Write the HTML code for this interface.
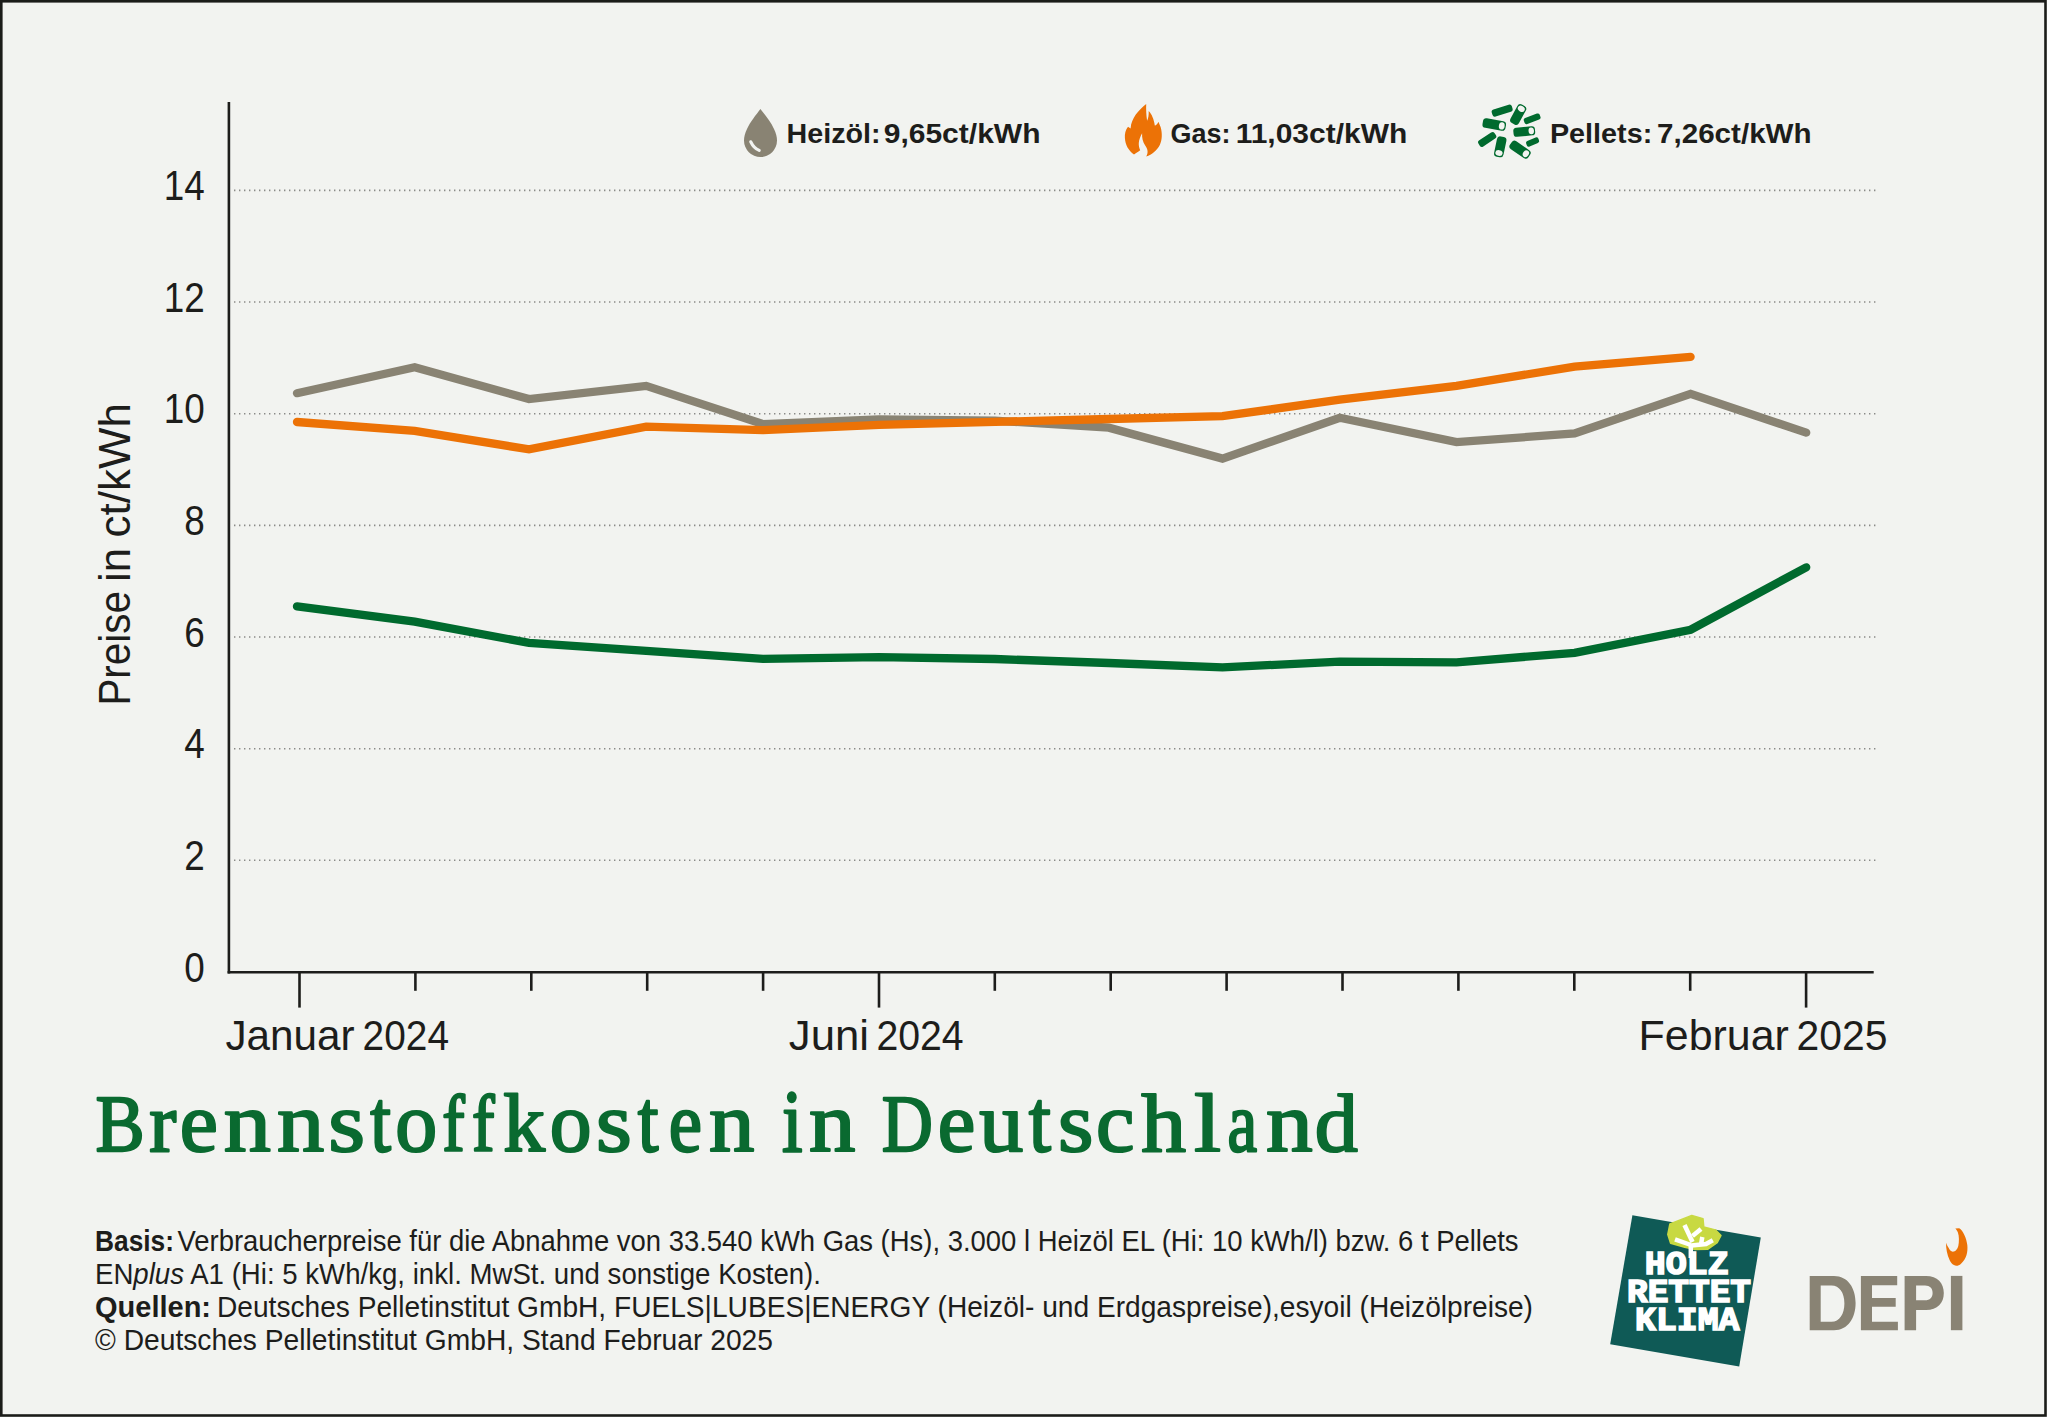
<!DOCTYPE html>
<html><head><meta charset="utf-8"><title>Brennstoffkosten in Deutschland</title>
<style>
html,body{margin:0;padding:0;width:2047px;height:1417px;overflow:hidden;background:#f2f3f0}
svg{display:block}
text{font-family:"Liberation Sans",sans-serif}
</style></head><body>
<svg width="2047" height="1417" viewBox="0 0 2047 1417">
<rect x="0" y="0" width="2047" height="1417" fill="#f2f3f0"/>
<rect x="1.3" y="1.3" width="2044.2" height="1414.2" fill="none" stroke="#1b1c19" stroke-width="2.6"/>

<line x1="234" y1="860.3" x2="1877" y2="860.3" stroke="#8a8a87" stroke-width="1.6" stroke-dasharray="1.4 3.6"/>
<line x1="234" y1="748.7" x2="1877" y2="748.7" stroke="#8a8a87" stroke-width="1.6" stroke-dasharray="1.4 3.6"/>
<line x1="234" y1="637.0" x2="1877" y2="637.0" stroke="#8a8a87" stroke-width="1.6" stroke-dasharray="1.4 3.6"/>
<line x1="234" y1="525.4" x2="1877" y2="525.4" stroke="#8a8a87" stroke-width="1.6" stroke-dasharray="1.4 3.6"/>
<line x1="234" y1="413.7" x2="1877" y2="413.7" stroke="#8a8a87" stroke-width="1.6" stroke-dasharray="1.4 3.6"/>
<line x1="234" y1="302.0" x2="1877" y2="302.0" stroke="#8a8a87" stroke-width="1.6" stroke-dasharray="1.4 3.6"/>
<line x1="234" y1="190.4" x2="1877" y2="190.4" stroke="#8a8a87" stroke-width="1.6" stroke-dasharray="1.4 3.6"/>
<line x1="228.9" y1="102" x2="228.9" y2="973.6" stroke="#1d1d1b" stroke-width="2.6"/>
<line x1="227.6" y1="972.3" x2="1873.7" y2="972.3" stroke="#1d1d1b" stroke-width="2.6"/>
<line x1="299.5" y1="972" x2="299.5" y2="1007.6" stroke="#1d1d1b" stroke-width="2.6"/>
<line x1="415.4" y1="972" x2="415.4" y2="990.8" stroke="#1d1d1b" stroke-width="2.6"/>
<line x1="531.3" y1="972" x2="531.3" y2="990.8" stroke="#1d1d1b" stroke-width="2.6"/>
<line x1="647.2" y1="972" x2="647.2" y2="990.8" stroke="#1d1d1b" stroke-width="2.6"/>
<line x1="763.1" y1="972" x2="763.1" y2="990.8" stroke="#1d1d1b" stroke-width="2.6"/>
<line x1="879.0" y1="972" x2="879.0" y2="1007.6" stroke="#1d1d1b" stroke-width="2.6"/>
<line x1="994.8" y1="972" x2="994.8" y2="990.8" stroke="#1d1d1b" stroke-width="2.6"/>
<line x1="1110.7" y1="972" x2="1110.7" y2="990.8" stroke="#1d1d1b" stroke-width="2.6"/>
<line x1="1226.6" y1="972" x2="1226.6" y2="990.8" stroke="#1d1d1b" stroke-width="2.6"/>
<line x1="1342.5" y1="972" x2="1342.5" y2="990.8" stroke="#1d1d1b" stroke-width="2.6"/>
<line x1="1458.4" y1="972" x2="1458.4" y2="990.8" stroke="#1d1d1b" stroke-width="2.6"/>
<line x1="1574.3" y1="972" x2="1574.3" y2="990.8" stroke="#1d1d1b" stroke-width="2.6"/>
<line x1="1690.2" y1="972" x2="1690.2" y2="990.8" stroke="#1d1d1b" stroke-width="2.6"/>
<line x1="1806.1" y1="972" x2="1806.1" y2="1007.6" stroke="#1d1d1b" stroke-width="2.6"/>
<text x="204.8" y="981.6" font-size="42.6" fill="#1d1d1b" text-anchor="end" textLength="20.5" lengthAdjust="spacingAndGlyphs">0</text>
<text x="204.8" y="869.9" font-size="42.6" fill="#1d1d1b" text-anchor="end" textLength="20.5" lengthAdjust="spacingAndGlyphs">2</text>
<text x="204.8" y="758.3" font-size="42.6" fill="#1d1d1b" text-anchor="end" textLength="20.5" lengthAdjust="spacingAndGlyphs">4</text>
<text x="204.8" y="646.6" font-size="42.6" fill="#1d1d1b" text-anchor="end" textLength="20.5" lengthAdjust="spacingAndGlyphs">6</text>
<text x="204.8" y="535.0" font-size="42.6" fill="#1d1d1b" text-anchor="end" textLength="20.5" lengthAdjust="spacingAndGlyphs">8</text>
<text x="204.8" y="423.3" font-size="42.6" fill="#1d1d1b" text-anchor="end" textLength="41" lengthAdjust="spacingAndGlyphs">10</text>
<text x="204.8" y="311.6" font-size="42.6" fill="#1d1d1b" text-anchor="end" textLength="41" lengthAdjust="spacingAndGlyphs">12</text>
<text x="204.8" y="200.0" font-size="42.6" fill="#1d1d1b" text-anchor="end" textLength="41" lengthAdjust="spacingAndGlyphs">14</text>
<text transform="translate(130.2,705.6) rotate(-90)" x="0" y="0" font-size="43.8" fill="#1d1d1b" textLength="114.5" lengthAdjust="spacingAndGlyphs">Preise</text>
<text transform="translate(130.2,582.0) rotate(-90)" x="0" y="0" font-size="43.8" fill="#1d1d1b" textLength="34.0" lengthAdjust="spacingAndGlyphs">in</text>
<text transform="translate(130.2,537.4) rotate(-90)" x="0" y="0" font-size="43.8" fill="#1d1d1b" textLength="134.4" lengthAdjust="spacingAndGlyphs">ct/kWh</text>
<text x="225.40" y="1050" font-size="43.3" fill="#1d1d1b" textLength="129.30" lengthAdjust="spacingAndGlyphs">Januar</text>
<text x="362.60" y="1050" font-size="43.3" fill="#1d1d1b" textLength="86.40" lengthAdjust="spacingAndGlyphs">2024</text>
<text x="788.80" y="1050" font-size="43.3" fill="#1d1d1b" textLength="80.20" lengthAdjust="spacingAndGlyphs">Juni</text>
<text x="876.40" y="1050" font-size="43.3" fill="#1d1d1b" textLength="87.30" lengthAdjust="spacingAndGlyphs">2024</text>
<text x="1638.60" y="1050" font-size="43.3" fill="#1d1d1b" textLength="150.30" lengthAdjust="spacingAndGlyphs">Februar</text>
<text x="1796.60" y="1050" font-size="43.3" fill="#1d1d1b" textLength="91.00" lengthAdjust="spacingAndGlyphs">2025</text>
<polyline points="297.0,393.2 414.7,367.2 529.0,399.1 646.2,385.9 763.0,424.1 879.0,419.5 995.0,420.6 1108.8,427.7 1222.5,458.6 1339.8,417.8 1456.5,442.1 1574.6,433.5 1690.6,393.8 1806.2,432.6" fill="none" stroke="#898373" stroke-width="8.3" stroke-linejoin="miter" stroke-linecap="round"/>
<polyline points="297.0,422.0 414.7,430.9 529.0,449.4 646.2,426.6 763.0,430.1 879.0,424.9 995.0,421.8 1108.8,419.0 1222.5,416.2 1339.8,399.6 1456.5,385.8 1574.6,366.7 1690.6,356.8" fill="none" stroke="#ec7206" stroke-width="8.3" stroke-linejoin="miter" stroke-linecap="round"/>
<polyline points="297.0,606.4 414.7,621.6 529.0,642.9 646.2,650.8 763.0,658.9 879.0,657.1 995.0,659.0 1108.8,663.0 1222.5,667.3 1339.8,661.7 1456.5,662.3 1574.6,652.9 1690.6,629.7 1806.2,567.3" fill="none" stroke="#006a2e" stroke-width="8.3" stroke-linejoin="miter" stroke-linecap="round"/>
<path d="M760.4,109 C756,115 750,122 747,129 C745,133 744,137 744,140.5 A16.5,16.5 0 0 0 777,140.5 C777,137 776,133 774,129 C771,122 765,115 760.4,109 Z" fill="#898373"/>
<path d="M750.8,141.8 C752.5,145.5 755.5,148.8 759.2,150.4" fill="none" stroke="#f2f3f0" stroke-width="3.2" stroke-linecap="round"/>
<text x="786.6" y="142.8" font-size="28.5" font-weight="bold" fill="#1d1d1b" textLength="94" lengthAdjust="spacingAndGlyphs">Heizöl:</text><text x="883.7" y="142.8" font-size="28.5" font-weight="bold" fill="#1d1d1b" textLength="156.8" lengthAdjust="spacingAndGlyphs">9,65ct/kWh</text>
<path d="M1146.2,104.1 C1138,111 1131.5,118 1130.6,128.5 L1128,126.8 C1125.5,130 1124.6,134 1124.9,138 C1125.3,145 1128.5,150.5 1134,154.5 C1135.8,153.2 1138,152 1140.2,150.3 C1139.2,148 1138.6,145.5 1138.8,143 C1139,139.5 1140.5,136 1142.1,133.2 C1141.8,137.5 1142.8,142 1145.2,145.5 C1147.5,148.5 1148.7,152.5 1146.2,156.5 C1152,154.5 1157,150.5 1159.8,145 C1162.2,140 1162.4,133 1160.6,127 L1158.4,121.8 C1157.6,124 1156.3,125.3 1154.8,125.6 C1154,119.5 1151.8,114 1148.7,111 C1148.8,115 1148.4,118.5 1147.1,120.8 C1146.2,115 1146,109 1146.2,104.1 Z" fill="#ec7206"/>
<text x="1170.4" y="142.8" font-size="28.5" font-weight="bold" fill="#1d1d1b" textLength="60" lengthAdjust="spacingAndGlyphs">Gas:</text><text x="1235.7" y="142.8" font-size="28.5" font-weight="bold" fill="#1d1d1b" textLength="171.6" lengthAdjust="spacingAndGlyphs">11,03ct/kWh</text>
<g transform="translate(1502.15,110.60) rotate(-17.6)"><rect x="-10.53" y="-3.65" width="21.06" height="7.30" rx="2.55" fill="#006a2e"/>
</g>
<g transform="translate(1518.20,114.55) rotate(-61.6)"><rect x="-10.51" y="-4.80" width="21.02" height="9.60" rx="3.36" fill="#006a2e"/>
<ellipse cx="6.48" cy="0" rx="2.88" ry="3.65" fill="#f2f3f0"/>
</g>
<g transform="translate(1532.15,118.75) rotate(-20.7)"><rect x="-8.47" y="-3.15" width="16.93" height="6.30" rx="2.20" fill="#006a2e"/>
</g>
<g transform="translate(1494.25,124.55) rotate(10.2)"><rect x="-11.67" y="-4.80" width="23.33" height="9.60" rx="3.36" fill="#006a2e"/>
<ellipse cx="7.63" cy="0" rx="2.88" ry="3.65" fill="#f2f3f0"/>
</g>
<g transform="translate(1524.25,131.55) rotate(-5.7)"><rect x="-10.85" y="-4.55" width="21.69" height="9.10" rx="3.19" fill="#006a2e"/>
<ellipse cx="7.03" cy="0" rx="2.73" ry="3.46" fill="#f2f3f0"/>
</g>
<g transform="translate(1487.20,139.45) rotate(-33.6)"><rect x="-9.65" y="-3.65" width="19.31" height="7.30" rx="2.55" fill="#006a2e"/>
</g>
<g transform="translate(1500.25,146.85) rotate(101.8)"><rect x="-10.29" y="-4.80" width="20.58" height="9.60" rx="3.36" fill="#006a2e"/>
<ellipse cx="6.26" cy="0" rx="2.88" ry="3.65" fill="#f2f3f0"/>
</g>
<g transform="translate(1520.05,149.70) rotate(34.5)"><rect x="-11.14" y="-4.80" width="22.28" height="9.60" rx="3.36" fill="#006a2e"/>
<ellipse cx="7.11" cy="0" rx="2.88" ry="3.65" fill="#f2f3f0"/>
</g>
<g transform="translate(1532.60,142.00) rotate(-23.2)"><rect x="-6.58" y="-2.95" width="13.16" height="5.90" rx="2.06" fill="#006a2e"/>
</g>
<text x="1549.9" y="142.8" font-size="28.5" font-weight="bold" fill="#1d1d1b" textLength="102.4" lengthAdjust="spacingAndGlyphs">Pellets:</text><text x="1657" y="142.8" font-size="28.5" font-weight="bold" fill="#1d1d1b" textLength="154.6" lengthAdjust="spacingAndGlyphs">7,26ct/kWh</text>
<g fill="#0a6a30" stroke="#0a6a30" stroke-width="2.20" stroke-linejoin="round">
<text transform="matrix(0.7373 0 0 0.8108 21.76 988.75)" x="100" y="200" font-size="100" vector-effect="non-scaling-stroke" style="font-family:'Liberation Serif',serif">B</text>
<text transform="matrix(0.8133 0 0 0.8404 67.94 982.81)" x="100" y="200" font-size="100" vector-effect="non-scaling-stroke" style="font-family:'Liberation Serif',serif">r</text>
<text transform="matrix(0.8595 0 0 0.8404 93.92 982.81)" x="100" y="200" font-size="100" vector-effect="non-scaling-stroke" style="font-family:'Liberation Serif',serif">e</text>
<text transform="matrix(0.9435 0 0 0.8404 129.47 982.81)" x="100" y="200" font-size="100" vector-effect="non-scaling-stroke" style="font-family:'Liberation Serif',serif">n</text>
<text transform="matrix(0.9457 0 0 0.8404 182.34 982.81)" x="100" y="200" font-size="100" vector-effect="non-scaling-stroke" style="font-family:'Liberation Serif',serif">n</text>
<text transform="matrix(0.9452 0 0 0.8404 233.70 982.81)" x="100" y="200" font-size="100" vector-effect="non-scaling-stroke" style="font-family:'Liberation Serif',serif">s</text>
<text transform="matrix(0.7462 0 0 0.8929 295.64 972.33)" x="100" y="200" font-size="100" vector-effect="non-scaling-stroke" style="font-family:'Liberation Serif',serif">t</text>
<text transform="matrix(0.8381 0 0 0.8404 311.44 982.81)" x="100" y="200" font-size="100" vector-effect="non-scaling-stroke" style="font-family:'Liberation Serif',serif">o</text>
<text transform="matrix(0.6733 0 0 0.8070 374.95 989.49)" x="100" y="200" font-size="100" vector-effect="non-scaling-stroke" style="font-family:'Liberation Serif',serif">f</text>
<text transform="matrix(0.6767 0 0 0.8070 404.40 989.49)" x="100" y="200" font-size="100" vector-effect="non-scaling-stroke" style="font-family:'Liberation Serif',serif">f</text>
<text transform="matrix(0.8354 0 0 0.8304 419.69 984.81)" x="100" y="200" font-size="100" vector-effect="non-scaling-stroke" style="font-family:'Liberation Serif',serif">k</text>
<text transform="matrix(0.8357 0 0 0.8404 466.19 982.81)" x="100" y="200" font-size="100" vector-effect="non-scaling-stroke" style="font-family:'Liberation Serif',serif">o</text>
<text transform="matrix(0.9194 0 0 0.8404 503.99 982.81)" x="100" y="200" font-size="100" vector-effect="non-scaling-stroke" style="font-family:'Liberation Serif',serif">s</text>
<text transform="matrix(0.7462 0 0 0.8929 563.24 972.33)" x="100" y="200" font-size="100" vector-effect="non-scaling-stroke" style="font-family:'Liberation Serif',serif">t</text>
<text transform="matrix(0.7486 0 0 0.8404 593.94 982.81)" x="100" y="200" font-size="100" vector-effect="non-scaling-stroke" style="font-family:'Liberation Serif',serif">e</text>
<text transform="matrix(0.9087 0 0 0.8404 618.21 982.81)" x="100" y="200" font-size="100" vector-effect="non-scaling-stroke" style="font-family:'Liberation Serif',serif">n</text>
<text transform="matrix(0.7417 0 0 0.8815 707.85 974.59)" x="100" y="200" font-size="100" vector-effect="non-scaling-stroke" style="font-family:'Liberation Serif',serif">i</text>
<text transform="matrix(0.9283 0 0 0.8404 716.22 982.81)" x="100" y="200" font-size="100" vector-effect="non-scaling-stroke" style="font-family:'Liberation Serif',serif">n</text>
<text transform="matrix(0.7077 0 0 0.8108 811.11 988.75)" x="100" y="200" font-size="100" vector-effect="non-scaling-stroke" style="font-family:'Liberation Serif',serif">D</text>
<text transform="matrix(0.8459 0 0 0.8404 853.12 982.81)" x="100" y="200" font-size="100" vector-effect="non-scaling-stroke" style="font-family:'Liberation Serif',serif">e</text>
<text transform="matrix(0.8809 0 0 0.8404 891.13 982.81)" x="100" y="200" font-size="100" vector-effect="non-scaling-stroke" style="font-family:'Liberation Serif',serif">u</text>
<text transform="matrix(0.8000 0 0 0.8929 948.80 972.33)" x="100" y="200" font-size="100" vector-effect="non-scaling-stroke" style="font-family:'Liberation Serif',serif">t</text>
<text transform="matrix(0.9097 0 0 0.8404 967.09 982.81)" x="100" y="200" font-size="100" vector-effect="non-scaling-stroke" style="font-family:'Liberation Serif',serif">s</text>
<text transform="matrix(0.8649 0 0 0.8404 1009.55 982.81)" x="100" y="200" font-size="100" vector-effect="non-scaling-stroke" style="font-family:'Liberation Serif',serif">c</text>
<text transform="matrix(0.8958 0 0 0.8304 1051.72 984.81)" x="100" y="200" font-size="100" vector-effect="non-scaling-stroke" style="font-family:'Liberation Serif',serif">h</text>
<text transform="matrix(0.9750 0 0 0.8304 1096.55 984.81)" x="100" y="200" font-size="100" vector-effect="non-scaling-stroke" style="font-family:'Liberation Serif',serif">l</text>
<text transform="matrix(0.6667 0 0 0.8404 1160.77 982.81)" x="100" y="200" font-size="100" vector-effect="non-scaling-stroke" style="font-family:'Liberation Serif',serif">a</text>
<text transform="matrix(0.9348 0 0 0.8404 1172.65 982.81)" x="100" y="200" font-size="100" vector-effect="non-scaling-stroke" style="font-family:'Liberation Serif',serif">n</text>
<text transform="matrix(0.8622 0 0 0.8304 1228.43 984.81)" x="100" y="200" font-size="100" vector-effect="non-scaling-stroke" style="font-family:'Liberation Serif',serif">d</text>
</g>
<text x="95" y="1251.2" font-size="29" font-weight="bold" fill="#1d1d1b" textLength="79" lengthAdjust="spacingAndGlyphs">Basis:</text>
<text x="177.5" y="1251.2" font-size="29" fill="#1d1d1b" textLength="1341" lengthAdjust="spacingAndGlyphs">Verbraucherpreise für die Abnahme von 33.540 kWh Gas (Hs), 3.000 l Heizöl EL (Hi: 10 kWh/l) bzw. 6 t Pellets</text>
<text x="95" y="1283.6" font-size="29" fill="#1d1d1b" textLength="726" lengthAdjust="spacingAndGlyphs">EN<tspan font-style="italic">plus</tspan> A1 (Hi: 5 kWh/kg, inkl. MwSt. und sonstige Kosten).</text>
<text x="95" y="1316.8" font-size="29" font-weight="bold" fill="#1d1d1b" textLength="116" lengthAdjust="spacingAndGlyphs">Quellen:</text>
<text x="217" y="1316.8" font-size="29" fill="#1d1d1b" textLength="1316" lengthAdjust="spacingAndGlyphs">Deutsches Pelletinstitut GmbH, FUELS|LUBES|ENERGY (Heizöl- und Erdgaspreise),esyoil (Heizölpreise)</text>
<text x="95" y="1350.2" font-size="29" fill="#1d1d1b" textLength="678" lengthAdjust="spacingAndGlyphs">© Deutsches Pelletinstitut GmbH, Stand Februar 2025</text>
<polygon points="1632.4,1215.2 1760.8,1237.4 1739.2,1366.4 1610.2,1344.2" fill="#0f5a56"/>
<polygon points="1669.9,1223.9 1691.8,1215.4 1703,1218.6 1703.8,1227.1 1715.4,1229.9 1721,1235.5 1717.2,1242.6 1707.6,1249.3 1695.3,1249.6 1684.7,1247.2 1670.6,1243.3 1667.8,1234.5" fill="#c8d942" stroke="#c8d942" stroke-width="1.5" stroke-linejoin="round"/>
<g stroke="#fff" stroke-width="4.5" stroke-linecap="butt" stroke-linejoin="miter" fill="none"><path d="M1690.8,1258 V1244"/><path d="M1691,1245 L1675,1239.3"/><path d="M1692.5,1242 L1684.5,1225"/><path d="M1692.5,1236 L1701,1229"/><path d="M1691.5,1245.5 L1706,1244 L1712.8,1240.3"/><path d="M1701,1244.5 L1702.3,1237"/></g>
<g font-family="Liberation Mono" style="font-family:'Liberation Mono',monospace" font-weight="bold" fill="#fff" stroke="#fff" stroke-width="1.6" font-size="33">
<text x="1644.8" y="1273.6" textLength="84" lengthAdjust="spacingAndGlyphs" style="font-family:'Liberation Mono',monospace">HOLZ</text>
<text x="1627" y="1301.8" textLength="124" lengthAdjust="spacingAndGlyphs" style="font-family:'Liberation Mono',monospace">RETTET</text>
<text x="1635" y="1330" textLength="104.5" lengthAdjust="spacingAndGlyphs" style="font-family:'Liberation Mono',monospace">KLIMA</text>
</g>
<g fill="#898374">
<path fill-rule="evenodd" d="M1809.7,1275.9 H1834 C1848,1275.9 1855.6,1288 1855.6,1303 C1855.6,1318 1848,1330.2 1834,1330.2 H1809.7 Z M1820.7,1285.6 V1321.8 H1831.5 C1839.5,1321.8 1844.4,1314 1844.4,1303.5 C1844.4,1293 1839.5,1285.6 1831.5,1285.6 Z"/>
<path d="M1860.9,1275.9 H1897.2 V1285.2 H1872 V1298 H1895.7 V1306.8 H1872 V1321.8 H1897.9 V1330.2 H1860.9 Z"/>
<path fill-rule="evenodd" d="M1904.6,1275.9 H1926 C1937.5,1275.9 1943.8,1283 1943.8,1292.9 C1943.8,1303 1937.5,1309.9 1926,1309.9 H1916.1 V1330.2 H1904.6 Z M1916.1,1285.6 V1300.2 H1925 C1930,1300.2 1932.6,1297.3 1932.6,1292.9 C1932.6,1288.5 1930,1285.6 1925,1285.6 Z"/>
<rect x="1950.9" y="1275.9" width="11.5" height="54.3"/>
</g>
<path d="M1955.3,1228.4 L1959.2,1228.2 C1963,1230.5 1966.5,1238 1967.3,1245 C1968,1252 1966.5,1259 1961,1263.7 C1959.5,1265 1958,1265.8 1956.4,1265.8 C1953,1265.5 1950.5,1262.5 1949.6,1260.1 C1947.2,1255 1945.8,1248 1946.1,1242.8 C1947,1245.5 1948,1247 1948.6,1247.8 C1949.5,1250 1951,1251.7 1952.8,1251.7 C1955.5,1251.7 1957.5,1249 1958.3,1246 C1959.2,1242 1959.2,1236 1957.9,1232.5 C1957.2,1230.5 1956.3,1229.3 1955.3,1228.4 Z" fill="#ec7206"/>
</svg></body></html>
